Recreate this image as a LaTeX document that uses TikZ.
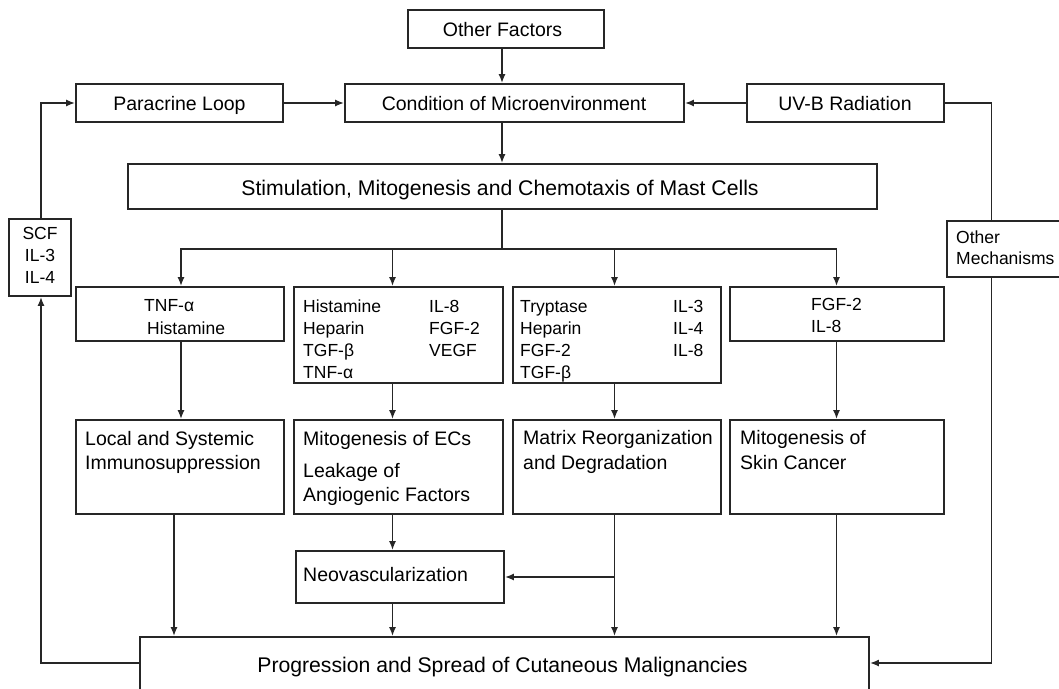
\documentclass[tikz,border=0pt]{standalone}
\usepackage{fontspec}
\setmainfont{Liberation Sans}
\usetikzlibrary{arrows.meta}
\begin{document}
\begin{tikzpicture}[x=1pt,y=-1pt,
  box/.style={draw=black!85, line width=1.8pt, inner sep=0pt},
  arr/.style={draw=black!85, line width=1.6pt, -{Latex[length=9pt,width=7pt]}},
  ln/.style={draw=black!85, line width=1.6pt},
  big/.style={font=\fontsize{21.2}{25}\selectfont, inner sep=0pt, text=black},
  med/.style={font=\fontsize{19.5}{23}\selectfont, inner sep=0pt, text=black},
  sml/.style={font=\fontsize{17.5}{22}\selectfont, inner sep=0pt, text=black}]
\useasboundingbox (0,0) rectangle (1059,688);

% column / row helper coordinates
\coordinate (xa) at (502,0);
\coordinate (xc1) at (181,0);
\coordinate (xc2) at (392.5,0);
\coordinate (xc3) at (614.5,0);
\coordinate (xc4) at (836.5,0);
\coordinate (xd1) at (174,0);
\coordinate (xl) at (41,0);
\coordinate (xr) at (991.5,0);
\coordinate (ybr) at (0,249);
\coordinate (yfb) at (0,663);

% boxes
\node[box, minimum width=196pt, minimum height=38pt] (of) at (506,29) {};
\node[box, minimum width=207pt, minimum height=38pt] (pl) at (179.5,103) {};
\node[box, minimum width=339pt, minimum height=38pt] (cm) at (514.5,103) {};
\node[box, minimum width=197pt, minimum height=38pt] (uv) at (845.5,103) {};
\node[box, minimum width=749pt, minimum height=45pt] (st) at (502.5,186.5) {};
\node[box, minimum width=62pt, minimum height=77pt] (scf) at (40,257.5) {};
\node[box, minimum width=118pt, minimum height=56pt] (om) at (1006,249) {};
\node[box, minimum width=208pt, minimum height=54pt] (tnf) at (180,314) {};
\node[box, minimum width=209pt, minimum height=96pt] (his) at (398.5,335) {};
\node[box, minimum width=208pt, minimum height=96pt] (try) at (617,335) {};
\node[box, minimum width=214pt, minimum height=54pt] (fgf) at (837,314) {};
\node[box, minimum width=208pt, minimum height=94pt] (loc) at (180,467) {};
\node[box, minimum width=209pt, minimum height=94pt] (ecs) at (398.5,467) {};
\node[box, minimum width=208pt, minimum height=94pt] (mat) at (617,467) {};
\node[box, minimum width=214pt, minimum height=94pt] (skin) at (837,467) {};
\node[box, minimum width=208pt, minimum height=52pt] (neo) at (400,577) {};
\node[box, minimum width=729pt, minimum height=66pt] (prog) at (504.5,670) {};

% texts
\node[med, anchor=base] (tof) at (502.5,36) {Other Factors};
\node[med, anchor=base] (tpl) at (179.5,110) {Paracrine Loop};
\node[med, anchor=base] (tcm) at (514,110) {Condition of Microenvironment};
\node[med, anchor=base] (tuv) at (845,110) {UV-B Radiation};
\node[big, anchor=base] (tst) at (500,195) {Stimulation, Mitogenesis and Chemotaxis of Mast Cells};
\node[big, anchor=base] (tpr) at (502.5,672.5) {Progression and Spread of Cutaneous Malignancies};

\node[sml, anchor=base] (ts1) at (40,239) {SCF};
\node[sml, anchor=base] (ts2) at (40,261) {IL-3};
\node[sml, anchor=base] (ts3) at (40,283) {IL-4};

\node[sml, anchor=base west] (to1) at (956,243) {Other};
\node[sml, anchor=base west] (to2) at (956,264) {Mechanisms};

\node[sml, anchor=base west] (tt1) at (144,311) {TNF-α};
\node[sml, anchor=base west] (tt2) at (147,334) {Histamine};

\node[sml, anchor=base west] (th1) at (303,312) {Histamine};
\node[sml, anchor=base west] (th2) at (303,334) {Heparin};
\node[sml, anchor=base west] (th3) at (303,356) {TGF-β};
\node[sml, anchor=base west] (th4) at (303,378) {TNF-α};
\node[sml, anchor=base west] (th5) at (429,312) {IL-8};
\node[sml, anchor=base west] (th6) at (429,334) {FGF-2};
\node[sml, anchor=base west] (th7) at (429,356) {VEGF};

\node[sml, anchor=base west] (tr1) at (520,312) {Tryptase};
\node[sml, anchor=base west] (tr2) at (520,334) {Heparin};
\node[sml, anchor=base west] (tr3) at (520,356) {FGF-2};
\node[sml, anchor=base west] (tr4) at (520,378) {TGF-β};
\node[sml, anchor=base west] (tr5) at (673,312) {IL-3};
\node[sml, anchor=base west] (tr6) at (673,334) {IL-4};
\node[sml, anchor=base west] (tr7) at (673,356) {IL-8};

\node[sml, anchor=base west] (tf1) at (811,310) {FGF-2};
\node[sml, anchor=base west] (tf2) at (811,332) {IL-8};

\node[med, anchor=base west] (tl1) at (85,445) {Local and Systemic};
\node[med, anchor=base west] (tl2) at (85,469) {Immunosuppression};
\node[med, anchor=base west] (te1) at (303,445) {Mitogenesis of ECs};
\node[med, anchor=base west] (te2) at (303,477) {Leakage of};
\node[med, anchor=base west] (te3) at (303,501) {Angiogenic Factors};
\node[med, anchor=base west] (tm1) at (523,444) {Matrix Reorganization};
\node[med, anchor=base west] (tm2) at (523,469) {and Degradation};
\node[med, anchor=base west] (tk1) at (740,444) {Mitogenesis of};
\node[med, anchor=base west] (tk2) at (740,469) {Skin Cancer};
\node[med, anchor=base west] (tn1) at (303,581) {Neovascularization};

% connectors
\draw[arr] (of.south -| xa) -- (cm.north -| xa);
\draw[arr] (pl.east) -- (cm.west |- pl.east);
\draw[arr] (uv.west) -- (cm.east |- uv.west);
\draw[arr] (cm.south -| xa) -- (st.north -| xa);
\draw[ln] (st.south -| xa) -- (ybr -| xa);
\draw[arr] (ybr -| xa) -| (tnf.north -| xc1);
\draw[arr] (ybr -| xa) -| (fgf.north -| xc4);
\draw[arr] (ybr -| xc2) -- (his.north -| xc2);
\draw[arr] (ybr -| xc3) -- (try.north -| xc3);

\draw[arr] (tnf.south -| xc1) -- (loc.north -| xc1);
\draw[arr] (his.south -| xc2) -- (ecs.north -| xc2);
\draw[arr] (try.south -| xc3) -- (mat.north -| xc3);
\draw[arr] (fgf.south -| xc4) -- (skin.north -| xc4);

\draw[arr] (loc.south -| xd1) -- (prog.north -| xd1);
\draw[arr] (ecs.south -| xc2) -- (neo.north -| xc2);
\draw[arr] (neo.south -| xc2) -- (prog.north -| xc2);
\draw[arr] (mat.south -| xc3) -- (prog.north -| xc3);
\draw[arr] (neo.east -| xc3) -- (neo.east);
\draw[arr] (skin.south -| xc4) -- (prog.north -| xc4);

\draw[ln] (uv.east) -| (om.north -| xr);
\draw[arr] (om.south -| xr) |- (prog.east |- yfb);
\draw[arr] (prog.west |- yfb) -| (scf.south -| xl);
\draw[arr] (scf.north -| xl) |- (pl.west);
\end{tikzpicture}
\end{document}
